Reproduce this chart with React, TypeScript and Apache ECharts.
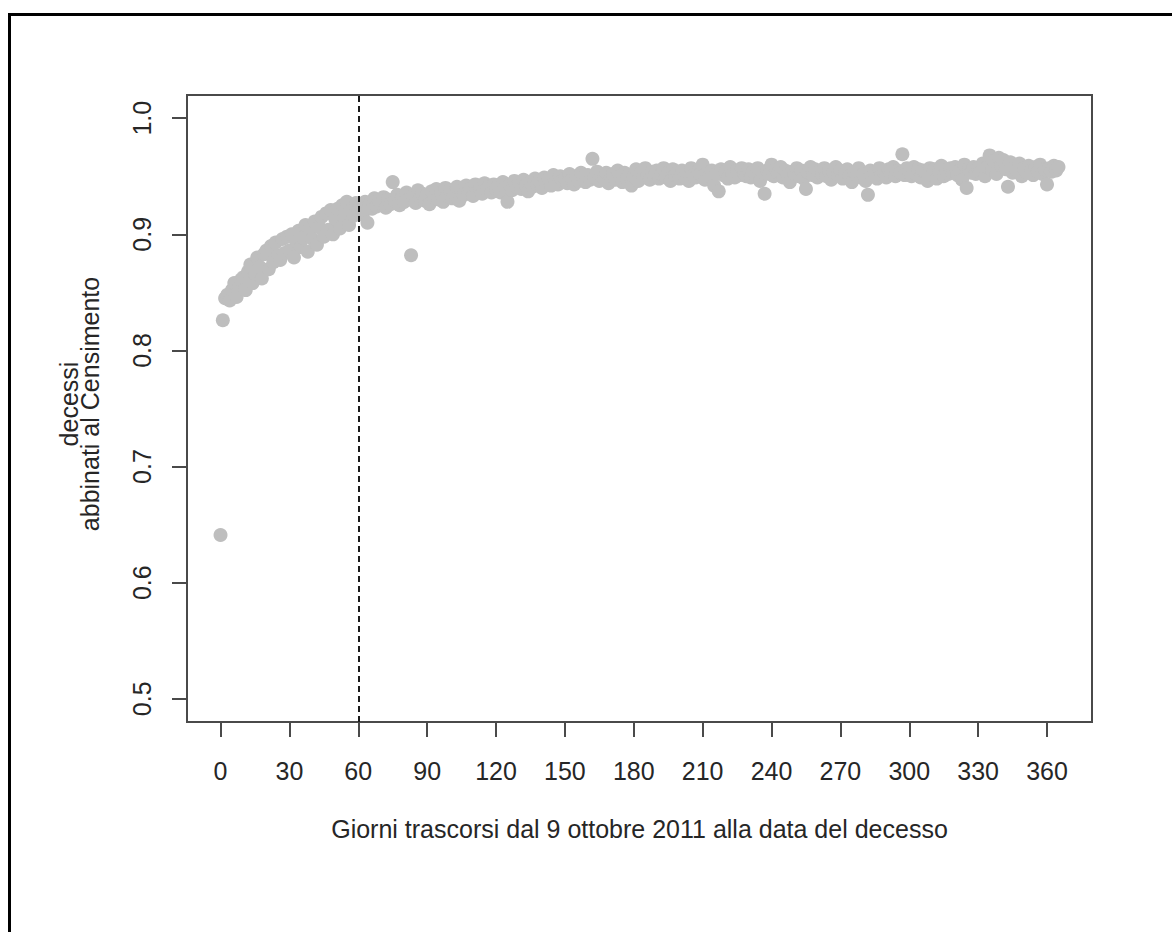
import React, { useEffect, useRef } from "react";
import * as echarts from "echarts";

// Giorni trascorsi (0..365) -> quota di decessi abbinati al Censimento
const matchRate: number[] = [
  0.641, 0.826, 0.845, 0.848, 0.843, 0.852, 0.858, 0.846, 0.855, 0.861,
  0.863, 0.852, 0.868, 0.874, 0.858, 0.866, 0.880, 0.872, 0.862, 0.883,
  0.886, 0.870, 0.890, 0.876, 0.893, 0.882, 0.878, 0.896, 0.884, 0.898,
  0.886, 0.900, 0.880, 0.894, 0.903, 0.889, 0.897, 0.908, 0.885, 0.905,
  0.896, 0.911, 0.891, 0.906, 0.915, 0.898, 0.918, 0.904, 0.921, 0.900,
  0.913, 0.922, 0.905, 0.925, 0.914, 0.928, 0.908, 0.921, 0.916, 0.927,
  0.920, 0.924, 0.917, 0.928, 0.910, 0.926, 0.922, 0.931, 0.924, 0.929,
  0.927, 0.932, 0.923, 0.930, 0.926, 0.945, 0.929, 0.934, 0.925, 0.931,
  0.928, 0.936, 0.930, 0.882, 0.933, 0.927, 0.938, 0.931, 0.935, 0.929,
  0.934, 0.926, 0.937, 0.932, 0.939, 0.930, 0.936, 0.928, 0.940, 0.933,
  0.938, 0.931, 0.935, 0.941, 0.929, 0.937, 0.934, 0.942, 0.936, 0.939,
  0.933, 0.943, 0.937, 0.940, 0.935, 0.944, 0.938, 0.941, 0.936, 0.943,
  0.939, 0.942, 0.936, 0.945, 0.940, 0.928, 0.943, 0.938, 0.946, 0.941,
  0.944, 0.939, 0.947, 0.942, 0.937, 0.945, 0.941, 0.948, 0.943, 0.946,
  0.940, 0.949, 0.944, 0.947, 0.942, 0.951, 0.945, 0.943, 0.950, 0.946,
  0.948, 0.944, 0.952, 0.947, 0.943, 0.950, 0.946, 0.953, 0.949, 0.945,
  0.951, 0.947, 0.965, 0.949, 0.954, 0.946, 0.950, 0.948, 0.953, 0.944,
  0.949, 0.952, 0.947, 0.955, 0.950, 0.945, 0.953, 0.948, 0.951, 0.942,
  0.950, 0.956, 0.946, 0.953, 0.949, 0.957, 0.951, 0.947, 0.954, 0.950,
  0.955, 0.948, 0.952, 0.957, 0.949, 0.953, 0.946, 0.956, 0.951, 0.954,
  0.948, 0.955, 0.950, 0.953, 0.946, 0.957, 0.951, 0.949, 0.954, 0.952,
  0.960, 0.947, 0.953, 0.950, 0.955, 0.942, 0.952, 0.937, 0.956, 0.951,
  0.954, 0.948, 0.958, 0.952, 0.949, 0.955, 0.951, 0.957, 0.953, 0.950,
  0.956, 0.949, 0.954, 0.951, 0.957, 0.946, 0.953, 0.935, 0.955, 0.952,
  0.960, 0.950, 0.956, 0.953, 0.958, 0.949, 0.955, 0.951, 0.945, 0.954,
  0.952, 0.957, 0.950, 0.955, 0.948, 0.939, 0.953, 0.958, 0.951, 0.956,
  0.949, 0.954, 0.952, 0.957, 0.950, 0.955, 0.947, 0.953, 0.958, 0.951,
  0.955, 0.948, 0.953, 0.956, 0.950, 0.945, 0.954, 0.951, 0.957, 0.949,
  0.952, 0.946, 0.934, 0.955, 0.950, 0.953, 0.948, 0.957, 0.951, 0.954,
  0.949, 0.956, 0.952, 0.958, 0.950, 0.955, 0.953, 0.969, 0.951, 0.957,
  0.954, 0.950, 0.958, 0.952, 0.956, 0.949, 0.955, 0.953, 0.946, 0.957,
  0.951, 0.956, 0.948, 0.954, 0.959, 0.950, 0.955, 0.952, 0.957, 0.953,
  0.958, 0.951, 0.955, 0.947, 0.960, 0.940, 0.956, 0.953, 0.958, 0.952,
  0.957, 0.954, 0.961, 0.950, 0.958, 0.968, 0.955, 0.963, 0.952, 0.966,
  0.959, 0.964, 0.956, 0.941, 0.962, 0.953, 0.958, 0.955, 0.961, 0.950,
  0.957, 0.953, 0.959, 0.955, 0.951, 0.958, 0.954, 0.960, 0.952, 0.956,
  0.943, 0.957, 0.954, 0.959, 0.955, 0.958,
];

const xTicks: number[] = [0, 30, 60, 90, 120, 150, 180, 210, 240, 270, 300, 330, 360];
const yTicks: number[] = [0.5, 0.6, 0.7, 0.8, 0.9, 1.0];
const cutoffDay = 60;

const xTitle = "Giorni trascorsi dal 9 ottobre 2011 alla data del decesso";
const yTitleLines: string[] = ["decessi", "abbinati al Censimento"];

const FONT = '"Liberation Sans", Arial, Helvetica, sans-serif';

export default function App() {
  const ref = useRef<HTMLDivElement>(null);

  useEffect(() => {
    if (!ref.current) return;
    const chart = echarts.init(ref.current, null, { renderer: "svg" });
    const points = matchRate.map((v, i) => [i, v]);

    chart.setOption({
      animation: false,
      backgroundColor: "#ffffff",
      grid: {
        left: 187,
        top: 95,
        width: 905,
        height: 627,
        show: true,
        borderColor: "#4a4a4a",
        borderWidth: 2,
        backgroundColor: "transparent",
      },
      xAxis: {
        type: "value",
        min: -14.6,
        max: 379.6,
        axisLine: { show: false, onZero: false },
        splitLine: { show: false },
        axisTick: {
          show: true,
          customValues: xTicks,
          length: 15,
          inside: false,
          lineStyle: { color: "#4a4a4a", width: 2 },
        },
        axisLabel: {
          customValues: xTicks,
          margin: 36,
          color: "#262626",
          fontSize: 25,
          fontFamily: FONT,
        },
      },
      yAxis: {
        type: "value",
        min: 0.48,
        max: 1.02,
        axisLine: { show: false, onZero: false },
        splitLine: { show: false },
        axisTick: {
          show: true,
          customValues: yTicks,
          length: 15,
          inside: false,
          lineStyle: { color: "#4a4a4a", width: 2 },
        },
        axisLabel: {
          customValues: yTicks,
          rotate: 90,
          margin: 33,
          color: "#262626",
          fontSize: 25,
          fontFamily: FONT,
          formatter: (v: number) => v.toFixed(1),
        },
      },
      series: [
        {
          type: "scatter",
          data: points,
          symbol: "circle",
          symbolSize: 14,
          itemStyle: { color: "#bebebe", opacity: 1 },
          markLine: {
            silent: true,
            symbol: ["none", "none"],
            label: { show: false },
            lineStyle: { color: "#1a1a1a", type: [6, 4], width: 2 },
            data: [{ xAxis: cutoffDay }],
          },
        },
      ],
      graphic: [
        {
          type: "rect",
          shape: { x: 9.5, y: 14.5, width: 1400, height: 1200 },
          style: { fill: "none", stroke: "#000000", lineWidth: 3 },
          silent: true,
        },
        {
          type: "text",
          x: 639.5,
          y: 829,
          style: {
            text: xTitle,
            fill: "#262626",
            font: `25px ${FONT}`,
            align: "center",
            verticalAlign: "middle",
          },
        },
        {
          type: "text",
          x: 69,
          y: 404,
          rotation: Math.PI / 2,
          style: {
            text: yTitleLines[0],
            fill: "#262626",
            font: `25px ${FONT}`,
            align: "center",
            verticalAlign: "middle",
          },
        },
        {
          type: "text",
          x: 90,
          y: 404,
          rotation: Math.PI / 2,
          style: {
            text: yTitleLines[1],
            fill: "#262626",
            font: `25px ${FONT}`,
            align: "center",
            verticalAlign: "middle",
          },
        },
      ],
    });

    return () => chart.dispose();
  }, []);

  return (
    <div
      ref={ref}
      style={{ position: "absolute", left: 0, top: 0, width: 1172, height: 932 }}
    />
  );
}
